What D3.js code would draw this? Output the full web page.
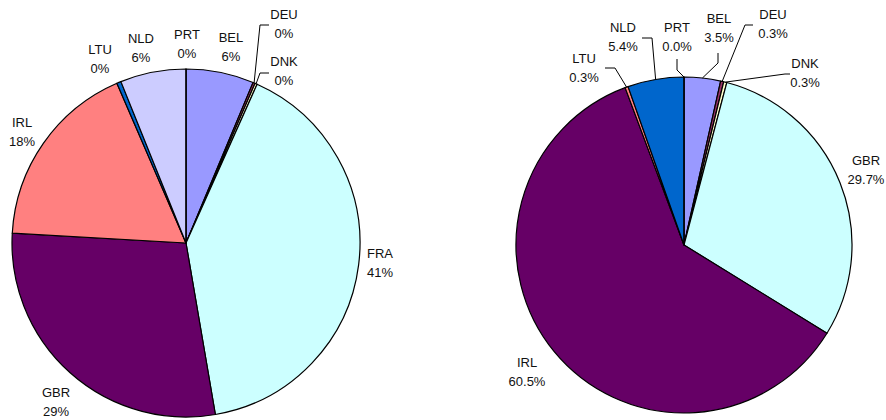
<!DOCTYPE html>
<html><head><meta charset="utf-8">
<script src="https://cdn.jsdelivr.net/npm/d3@7"></script>
<style>
html,body{margin:0;padding:0;background:#fff;}
svg text{font-family:"Liberation Sans",Arial,sans-serif;font-size:13px;fill:#111;}
</style></head>
<body><svg id="c" width="886" height="420"></svg>
<script>
// ---- data ----
const leftCategories = ["BEL","DEU","DNK","FRA","GBR","IRL","LTU","NLD","PRT"];
const leftValues     = [6.3, 0.2, 0.2, 40.6, 28.6, 17.6, 0.4, 6.1, 0.0];
const rightCategories = ["BEL","DEU","DNK","GBR","IRL","LTU","NLD","PRT"];
const rightValues     = [3.5, 0.3, 0.3, 29.7, 60.5, 0.3, 5.4, 0.0];
const leftColors  = ["#9999FF","#993366","#FFFFCC","#CCFFFF","#660066","#FF8080","#0066CC","#CCCCFF","#000080"];
const rightColors = ["#9999FF","#993366","#FFFFCC","#CCFFFF","#660066","#FF8080","#0066CC","#CCCCFF"];

// ---- layout (label centres / baselines, leader elbows) ----
const leftLayout = {
  BEL:{x:231,y:42}, DEU:{x:284,y:19,leader:[[260,25],[269,25]]},
  DNK:{x:284,y:66,leader:[[260,73],[269,73]]}, FRA:{x:380,y:258},
  GBR:{x:56,y:397}, IRL:{x:22,y:127}, LTU:{x:100,y:54}, NLD:{x:141,y:43}, PRT:{x:187,y:39}
};
const rightLayout = {
  BEL:{x:719,y:23,leader:[[718,63],[718,53]]}, DEU:{x:773,y:19,leader:[[745,25],[753,25]]},
  DNK:{x:805,y:68,leader:[[785,74],[790,74]]}, GBR:{x:866,y:165},
  IRL:{x:527,y:367}, LTU:{x:584,y:63,leader:[[615,68],[605,68]]},
  NLD:{x:623,y:32,leader:[[652,38],[642,38]]}, PRT:{x:677,y:32,leader:[[677,70],[677,59]]}
};

const svg = d3.select("#c");

function drawPie(cx, cy, r, cats, vals, colors, layout, fmt){
  const total = d3.sum(vals);
  const data = cats.map((c,i)=>({cat:c, value:vals[i], color:colors[i]}));
  const pie = d3.pie().sort(null).value(d=>d.value).startAngle(0).endAngle(2*Math.PI);
  const arcs = pie(data);
  const arc = d3.arc().innerRadius(0).outerRadius(r);
  const g = svg.append("g").attr("transform",`translate(${cx},${cy})`);
  g.selectAll("path").data(arcs).join("path")
    .attr("d",arc).attr("fill",d=>d.data.color)
    .attr("stroke","#000").attr("stroke-width",1.2).attr("stroke-linejoin","round");
  // leaders
  arcs.forEach(a=>{
    const L = layout[a.data.cat];
    if(!L || !L.leader) return;
    const m = (a.startAngle+a.endAngle)/2;
    const p0 = [cx + r*Math.sin(m), cy - r*Math.cos(m)];
    const pts = [p0].concat(L.leader);
    svg.append("path").attr("d", d3.line()(pts))
      .attr("fill","none").attr("stroke","#000").attr("stroke-width",1);
  });
  // labels
  const f = d3.format(fmt);
  arcs.forEach(a=>{
    const L = layout[a.data.cat];
    const t = svg.append("text").attr("text-anchor","middle");
    t.append("tspan").attr("x",L.x).attr("y",L.y).text(a.data.cat);
    t.append("tspan").attr("x",L.x).attr("y",L.y+19).text(f(a.data.value/total));
  });
}

drawPie(186, 243, 174, leftCategories, leftValues, leftColors, leftLayout, ".0%");
drawPie(684, 245, 168, rightCategories, rightValues, rightColors, rightLayout, ".1%");
</script></body></html>
